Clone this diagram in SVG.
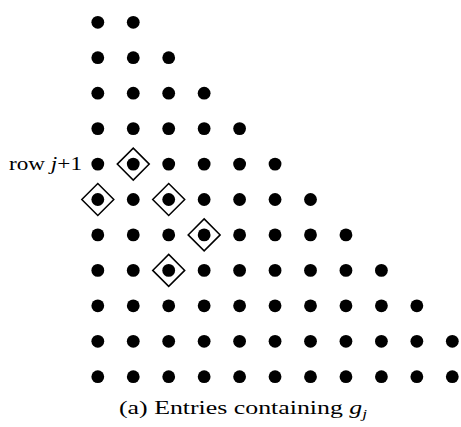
<svg xmlns="http://www.w3.org/2000/svg" width="461" height="427" viewBox="0 0 461 427">
<defs>
<style>
.d{fill:#000}
.m{fill:none;stroke:#000;stroke-width:1.5}
.t{font-family:"Liberation Serif","DejaVu Serif",serif;fill:#000}
</style>
<circle id="dot" r="6.4" class="d"/>
<path id="dia" d="M0,-16 L16,0 L0,16 L-16,0 Z" class="m"/>
</defs>
<rect width="461" height="427" fill="#fff"/>
<g id="dots">
<g id="r1"><use href="#dot" x="97.8" y="22.3"/><use href="#dot" x="133.25" y="22.3"/></g>
<g id="r2"><use href="#dot" x="97.8" y="57.7"/><use href="#dot" x="133.25" y="57.7"/><use href="#dot" x="168.7" y="57.7"/></g>
<g id="r3"><use href="#dot" x="97.8" y="93.2"/><use href="#dot" x="133.25" y="93.2"/><use href="#dot" x="168.7" y="93.2"/><use href="#dot" x="204.15" y="93.2"/></g>
<g id="r4"><use href="#dot" x="97.8" y="128.6"/><use href="#dot" x="133.25" y="128.6"/><use href="#dot" x="168.7" y="128.6"/><use href="#dot" x="204.15" y="128.6"/><use href="#dot" x="239.6" y="128.6"/></g>
<g id="r5"><use href="#dot" x="97.8" y="164.1"/><use href="#dot" x="133.25" y="164.1"/><use href="#dot" x="168.7" y="164.1"/><use href="#dot" x="204.15" y="164.1"/><use href="#dot" x="239.6" y="164.1"/><use href="#dot" x="275.05" y="164.1"/></g>
<g id="r6"><use href="#dot" x="97.8" y="199.5"/><use href="#dot" x="133.25" y="199.5"/><use href="#dot" x="168.7" y="199.5"/><use href="#dot" x="204.15" y="199.5"/><use href="#dot" x="239.6" y="199.5"/><use href="#dot" x="275.05" y="199.5"/><use href="#dot" x="310.5" y="199.5"/></g>
<g id="r7"><use href="#dot" x="97.8" y="234.9"/><use href="#dot" x="133.25" y="234.9"/><use href="#dot" x="168.7" y="234.9"/><use href="#dot" x="204.15" y="234.9"/><use href="#dot" x="239.6" y="234.9"/><use href="#dot" x="275.05" y="234.9"/><use href="#dot" x="310.5" y="234.9"/><use href="#dot" x="345.95" y="234.9"/></g>
<g id="r8"><use href="#dot" x="97.8" y="270.4"/><use href="#dot" x="133.25" y="270.4"/><use href="#dot" x="168.7" y="270.4"/><use href="#dot" x="204.15" y="270.4"/><use href="#dot" x="239.6" y="270.4"/><use href="#dot" x="275.05" y="270.4"/><use href="#dot" x="310.5" y="270.4"/><use href="#dot" x="345.95" y="270.4"/><use href="#dot" x="381.4" y="270.4"/></g>
<g id="r9"><use href="#dot" x="97.8" y="305.8"/><use href="#dot" x="133.25" y="305.8"/><use href="#dot" x="168.7" y="305.8"/><use href="#dot" x="204.15" y="305.8"/><use href="#dot" x="239.6" y="305.8"/><use href="#dot" x="275.05" y="305.8"/><use href="#dot" x="310.5" y="305.8"/><use href="#dot" x="345.95" y="305.8"/><use href="#dot" x="381.4" y="305.8"/><use href="#dot" x="416.85" y="305.8"/></g>
<g id="r10"><use href="#dot" x="97.8" y="341.3"/><use href="#dot" x="133.25" y="341.3"/><use href="#dot" x="168.7" y="341.3"/><use href="#dot" x="204.15" y="341.3"/><use href="#dot" x="239.6" y="341.3"/><use href="#dot" x="275.05" y="341.3"/><use href="#dot" x="310.5" y="341.3"/><use href="#dot" x="345.95" y="341.3"/><use href="#dot" x="381.4" y="341.3"/><use href="#dot" x="416.85" y="341.3"/><use href="#dot" x="452.3" y="341.3"/></g>
<g id="r11"><use href="#dot" x="97.8" y="376.7"/><use href="#dot" x="133.25" y="376.7"/><use href="#dot" x="168.7" y="376.7"/><use href="#dot" x="204.15" y="376.7"/><use href="#dot" x="239.6" y="376.7"/><use href="#dot" x="275.05" y="376.7"/><use href="#dot" x="310.5" y="376.7"/><use href="#dot" x="345.95" y="376.7"/><use href="#dot" x="381.4" y="376.7"/><use href="#dot" x="416.85" y="376.7"/><use href="#dot" x="452.3" y="376.7"/></g>
</g>
<g id="marks">
<use href="#dia" x="133.25" y="164.1"/>
<use href="#dia" x="97.8" y="199.5"/>
<use href="#dia" x="168.7" y="199.5"/>
<use href="#dia" x="204.15" y="234.9"/>
<use href="#dia" x="168.7" y="270.4"/>
</g>
<g id="labels">
<text class="t" x="9" y="169.5" font-size="18.5" textLength="73" lengthAdjust="spacingAndGlyphs">row <tspan font-style="italic">j</tspan>+1</text>
<text class="t" x="119" y="414" font-size="19.5" textLength="248" lengthAdjust="spacingAndGlyphs">(a) Entries containing <tspan font-style="italic">g</tspan><tspan font-style="italic" font-size="13" dy="4">j</tspan></text>
</g>
</svg>
